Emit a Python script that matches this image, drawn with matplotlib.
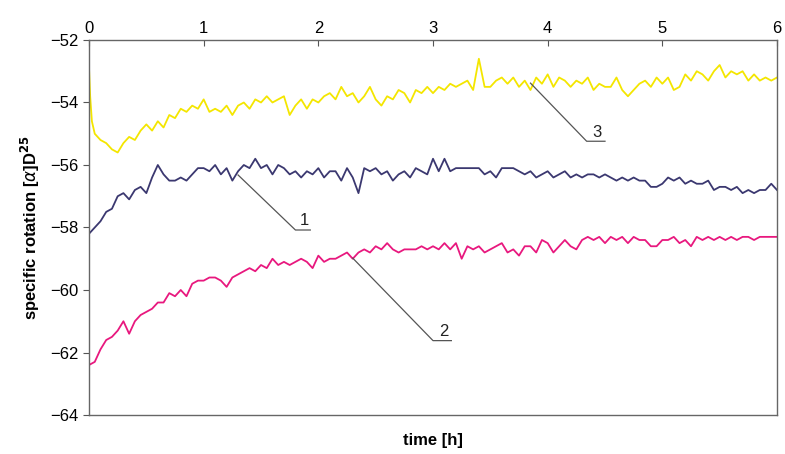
import numpy as np
import matplotlib
matplotlib.use("Agg")
import matplotlib.pyplot as plt

plt.rcParams['font.family'] = ['Liberation Sans', 'DejaVu Sans']

# time grid in hours (0.05 h steps)
t = np.arange(0, 121) * 0.05

# curve 1 (navy)
y1 = [-58.2, -58.0, -57.8, -57.5, -57.4, -57.0, -56.9, -57.1, -56.8, -56.7,
      -56.9, -56.4, -56.0, -56.3, -56.5, -56.5, -56.4, -56.5, -56.3, -56.1,
      -56.1, -56.2, -56.0, -56.3, -56.1, -56.5, -56.2, -56.0, -56.1, -55.8,
      -56.1, -56.0, -56.3, -56.0, -56.1, -56.3, -56.2, -56.4, -56.2, -56.3,
      -56.1, -56.4, -56.2, -56.2, -56.5, -56.1, -56.4, -56.9, -56.1, -56.2,
      -56.1, -56.3, -56.2, -56.5, -56.3, -56.2, -56.4, -56.1, -56.2, -56.3,
      -55.8, -56.2, -55.8, -56.2, -56.1, -56.1, -56.1, -56.1, -56.1, -56.3,
      -56.2, -56.4, -56.1, -56.1, -56.1, -56.2, -56.3, -56.2, -56.4, -56.3,
      -56.2, -56.4, -56.3, -56.2, -56.4, -56.3, -56.4, -56.3, -56.3, -56.4,
      -56.3, -56.4, -56.5, -56.4, -56.5, -56.4, -56.5, -56.5, -56.7, -56.7,
      -56.6, -56.4, -56.5, -56.4, -56.6, -56.5, -56.6, -56.6, -56.5, -56.8,
      -56.7, -56.7, -56.8, -56.7, -56.9, -56.8, -56.9, -56.8, -56.8, -56.6,
      -56.8]

# curve 2 (magenta)
y2 = [-62.4, -62.3, -61.9, -61.6, -61.5, -61.3, -61.0, -61.4, -61.0, -60.8,
      -60.7, -60.6, -60.4, -60.4, -60.1, -60.2, -60.0, -60.2, -59.8, -59.7,
      -59.7, -59.6, -59.6, -59.7, -59.9, -59.6, -59.5, -59.4, -59.3, -59.4,
      -59.2, -59.3, -59.0, -59.2, -59.1, -59.2, -59.1, -59.0, -59.1, -59.3,
      -58.9, -59.1, -59.0, -59.0, -58.9, -58.8, -59.0, -58.8, -58.7, -58.8,
      -58.6, -58.7, -58.5, -58.7, -58.8, -58.7, -58.7, -58.7, -58.6, -58.7,
      -58.6, -58.7, -58.5, -58.7, -58.5, -59.0, -58.6, -58.7, -58.6, -58.8,
      -58.7, -58.6, -58.5, -58.8, -58.7, -58.9, -58.6, -58.6, -58.8, -58.4,
      -58.5, -58.8, -58.6, -58.4, -58.6, -58.7, -58.4, -58.3, -58.4, -58.3,
      -58.5, -58.3, -58.4, -58.3, -58.5, -58.3, -58.4, -58.4, -58.6, -58.6,
      -58.4, -58.4, -58.3, -58.5, -58.4, -58.6, -58.3, -58.4, -58.3, -58.4,
      -58.3, -58.4, -58.3, -58.4, -58.3, -58.3, -58.4, -58.3, -58.3, -58.3,
      -58.3]

# curve 3 (yellow): fast initial drop, then the 0.05 h grid
t3_head = [0.0, 0.01, 0.025]
y3_head = [-52.9, -53.8, -54.6]
y3 = [-55.0, -55.2, -55.3, -55.5, -55.6, -55.3, -55.1, -55.2, -54.9,
      -54.7, -54.9, -54.6, -54.8, -54.4, -54.5, -54.2, -54.3, -54.1, -54.2,
      -53.9, -54.3, -54.2, -54.3, -54.1, -54.4, -54.1, -54.0, -54.2, -53.9,
      -54.0, -53.8, -54.0, -53.9, -53.8, -54.4, -54.1, -53.9, -54.2, -53.9,
      -54.0, -53.8, -53.7, -53.9, -53.5, -53.8, -53.7, -54.0, -53.8, -53.5,
      -53.9, -54.1, -53.8, -53.9, -53.6, -53.7, -54.0, -53.6, -53.7, -53.5,
      -53.7, -53.5, -53.6, -53.4, -53.5, -53.4, -53.3, -53.6, -52.6, -53.5,
      -53.5, -53.3, -53.2, -53.4, -53.2, -53.5, -53.3, -53.6, -53.2, -53.4,
      -53.1, -53.5, -53.2, -53.3, -53.5, -53.3, -53.4, -53.2, -53.6, -53.4,
      -53.5, -53.5, -53.2, -53.6, -53.8, -53.6, -53.4, -53.3, -53.5, -53.2,
      -53.4, -53.2, -53.6, -53.5, -53.1, -53.3, -53.0, -53.1, -53.3, -53.0,
      -52.8, -53.2, -53.0, -53.1, -53.0, -53.3, -53.1, -53.3, -53.2, -53.3,
      -53.2]
t3 = np.concatenate([t3_head, t[1:]])
y3 = y3_head + y3

fig = plt.figure(figsize=(7.85, 4.54), dpi=100)
ax = fig.add_axes([0.1134, 0.0859, 0.8764, 0.826])

ax.plot(t, y1, color='#3b3870', lw=1.3)
ax.plot(t, y2, color='#e8187e', lw=1.3)
ax.plot(t3, y3, color='#f4e600', lw=1.3)

# leader lines and curve numbers
leaders = [
    ((1.30, -56.32), (1.80, -58.08), 1.93, '1'),
    ((2.30, -58.98), (3.00, -61.62), 3.16, '2'),
    ((3.85, -53.38), (4.34, -55.24), 4.50, '3'),
]
for (x0, y0), (x1, y1_), x2, lab in leaders:
    ax.plot([x0, x1, x2], [y0, y1_, y1_], color='#555555', lw=0.9)
    ax.text((x1 + x2) / 2 + 0.01, y1_ + 0.05, lab, ha='center', va='bottom',
            fontsize=12, color='#222222')

ax.set_xlim(0, 6)
ax.set_ylim(-64, -52)
ax.set_xticks(range(0, 7))
ax.set_yticks(range(-64, -51, 2))
ax.xaxis.tick_top()
ax.tick_params(axis='x', direction='in', length=4, labelsize=12, pad=3,
               color='#555555')
ax.tick_params(axis='y', direction='out', length=4, labelsize=12,
               color='#555555')
for s in ax.spines.values():
    s.set_color('#666666')
    s.set_linewidth(1.0)

ax.set_ylabel(r'specific rotation [$\alpha$]D$^{\mathbf{25}}$',
              fontsize=12, fontweight='bold', labelpad=6)
fig.text(0.551, 0.03, 'time [h]', ha='center', va='center',
         fontsize=12, fontweight='bold')

fig.savefig('out.png', dpi=100)
